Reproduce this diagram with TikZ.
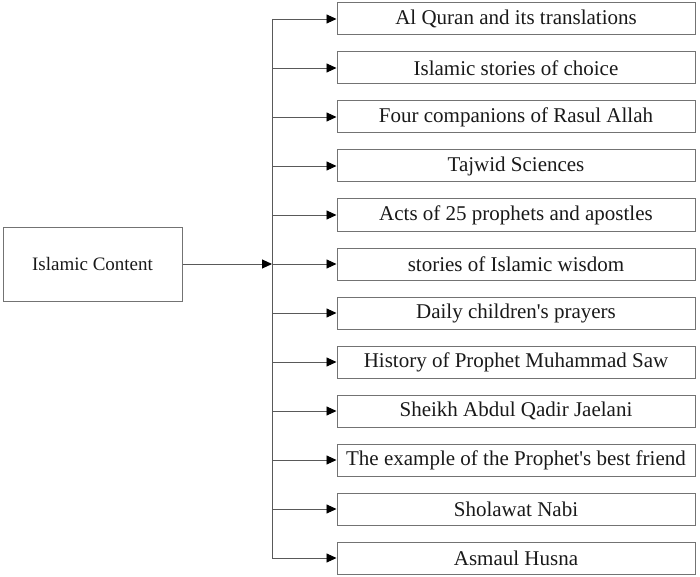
\documentclass[tikz,border=0pt]{standalone}
\usepackage{fontspec}
\setmainfont{Liberation Serif}[Ligatures=TeXOff]
\usetikzlibrary{arrows.meta}
\usetikzlibrary{positioning}

\tikzset{
    itembox/.style={draw=black!55,line width=1pt,minimum width=358pt,minimum height=32pt,inner sep=0pt,font=\fontsize{21}{24}\selectfont,text=black!90},
    link/.style={draw=black!65,line width=0.9pt},
    tip/.style={-{Triangle[length=10pt,width=9pt,color=black]}}
}

\begin{document}
\begin{tikzpicture}[x=1pt,y=-1pt]
        \useasboundingbox (0,0) rectangle (700,577);

        \node[draw=black!55,line width=1pt,minimum width=179pt,minimum height=74pt,inner sep=0pt,font=\fontsize{19}{22}\selectfont,text=black!90] (content) at (92.5,264) {Islamic Content};

        \def\trunk{272}
        \coordinate (top) at (\trunk,19);
        \coordinate (bot) at (\trunk,558);
        \coordinate (mid) at (\trunk,264);
        \draw[link] (top) -- (bot);
        \draw[link,tip] (content) -- (mid);

        \foreach \txt [count=\i from 0] in {Al Quran and its translations,Islamic stories of choice,Four companions of Rasul Allah,Tajwid Sciences,Acts of 25 prophets and apostles,stories of Islamic wisdom,Daily children's prayers,History of Prophet Muhammad Saw,Sheikh Abdul Qadir Jaelani,The example of the Prophet's best friend,Sholawat Nabi,Asmaul Husna}
        {
            \node[itembox] (item\i) at (516,{19+49*\i}) {\txt};
            \coordinate (j\i) at (\trunk,{19+49*\i});
            \draw[link,tip] (j\i) -- (item\i.west);
        }
    \end{tikzpicture}
\end{document}
